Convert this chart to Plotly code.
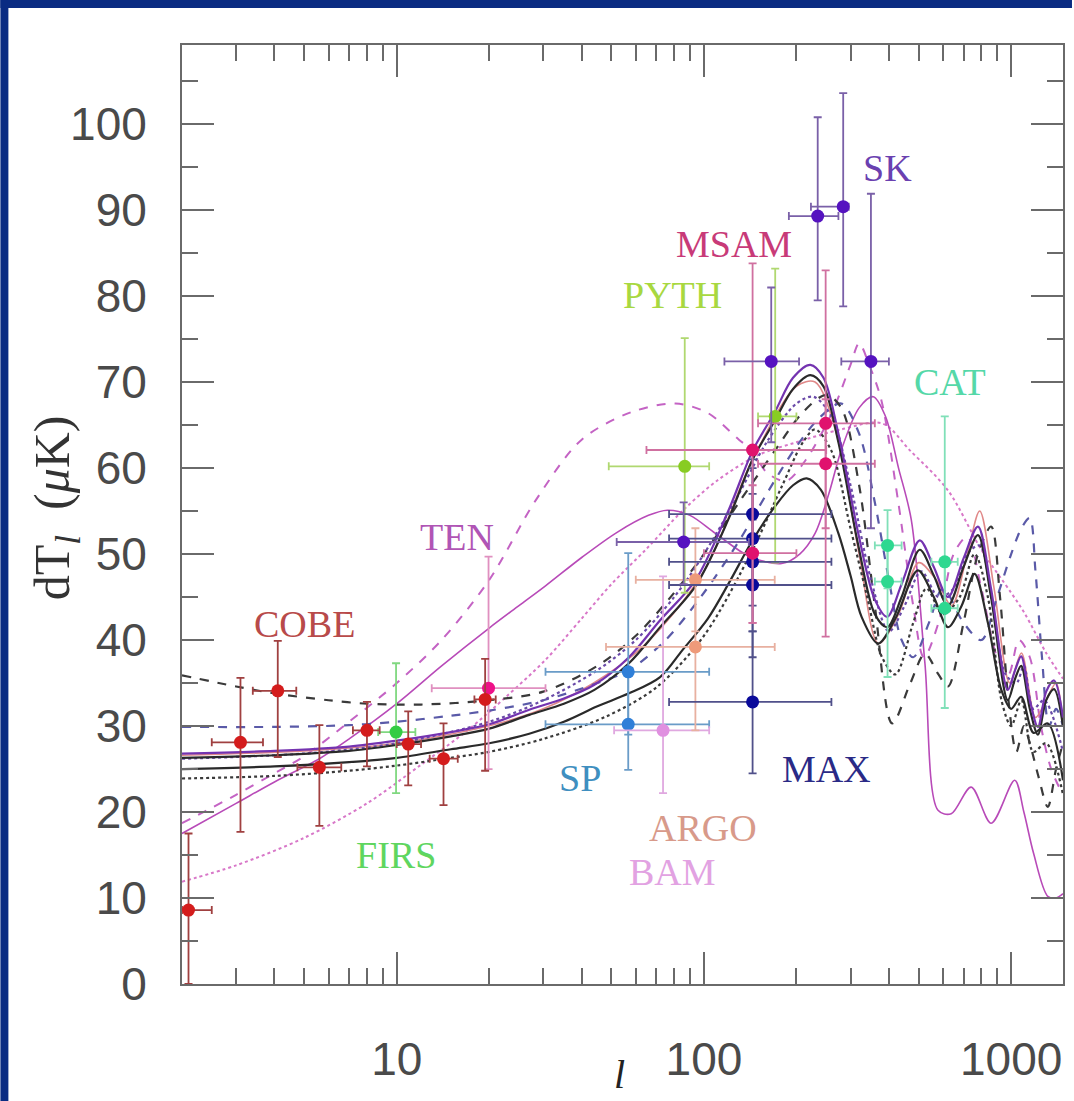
import numpy as np
import plotly.graph_objects as go

# ---------------- data points (experiments) ----------------
cobe_l = [2.1, 3.1, 4.1, 5.6, 8.0, 10.9, 14.2, 19.4]
cobe_dT = [8.6, 28.1, 34.1, 25.2, 29.5, 27.9, 26.2, 33.1]
cobe_hi = [17.5, 35.6, 39.9, 30.1, 32.8, 31.7, 30.3, 37.8]
cobe_lo = [0.0, 17.7, 26.4, 18.4, 25.3, 23.1, 20.8, 24.8]
cobe_llo = [2.0, 2.5, 3.4, 4.75, 7.2, 10.0, 12.8, 17.9]
cobe_lhi = [2.5, 3.67, 4.71, 6.6, 8.8, 12.0, 15.8, 21.0]

firs_l = [9.95]
firs_dT = [29.3]
firs_hi = [37.3]
firs_lo = [22.2]
firs_llo = [8.7]
firs_lhi = [11.5]

ten_l = [19.9]
ten_dT = [34.4]
ten_hi = [49.7]
ten_lo = [25.0]
ten_llo = [13.0]
ten_lhi = [30.5]

sp_l = [56.7, 56.7]
sp_dT = [36.3, 30.2]
sp_hi = [50.1, 36.0]
sp_lo = [29.0, 24.9]
sp_llo = [30.5, 30.5]
sp_lhi = [104, 104]

bam_l = [73.6]
bam_dT = [29.5]
bam_hi = [47.4]
bam_lo = [22.2]
bam_llo = [51]
bam_lhi = [104]

argo_l = [93.8, 93.8]
argo_dT = [47.0, 39.2]
argo_hi = [53.0, 45.0]
argo_lo = [41.0, 29.5]
argo_llo = [60, 48]
argo_lhi = [170, 170]

pyth_l = [86.6, 170.6]
pyth_dT = [60.2, 66.0]
pyth_hi = [75.1, 83.2]
pyth_lo = [45.5, 49.0]
pyth_llo = [49, 150]
pyth_lhi = [104, 200]

msam_l = [144, 144, 249, 249]
msam_dT = [62.1, 50.1, 65.2, 60.5]
msam_hi = [83.8, 58.0, 83.0, 68.0]
msam_lo = [42.0, 42.0, 53.0, 40.4]
msam_llo = [65, 100, 150, 150]
msam_lhi = [250, 200, 360, 360]

max_l = [144, 144, 144, 144, 144]
max_dT = [54.65, 51.8, 49.1, 46.4, 32.8]
max_hi = [61.0, 60.0, 57.0, 54.0, 41.0]
max_lo = [47.0, 44.0, 41.0, 38.0, 24.5]
max_llo = [77, 77, 77, 77, 77]
max_lhi = [260, 260, 260, 260, 260]

sk_l = [85.9, 165.6, 234.6, 284, 349.6]
sk_dT = [51.4, 72.4, 89.3, 90.4, 72.4]
sk_hi = [56.0, 81.0, 100.8, 103.6, 91.9]
sk_lo = [46.5, 63.0, 79.5, 78.8, 53.0]
sk_llo = [52, 116.6, 189, 223, 280]
sk_lhi = [140, 204, 274, 296, 400]

cat_l = [396, 396, 608, 608]
cat_dT = [51.0, 46.8, 49.1, 43.7]
cat_hi = [55.1, 51.0, 66.0, 49.0]
cat_lo = [46.0, 35.7, 44.0, 32.1]
cat_llo = [360, 360, 550, 550]
cat_lhi = [440, 440, 670, 670]

# ---------------- theory curves ----------------
p1_l = [2, 4, 7, 10, 15, 20, 27, 35, 44, 57, 72, 94, 120, 144, 170, 195, 222, 245, 274, 318, 360, 395, 440, 504, 560, 623, 700, 780, 860, 975, 1030, 1078, 1150, 1222, 1300, 1380, 1475]
p1_v = [26.8, 27.1, 27.6, 28.3, 29.3, 30.2, 31.9, 33.2, 34.8, 38.0, 42.3, 47.0, 55.0, 62.0, 66.5, 70.5, 72.0, 70.5, 64.0, 52.4, 44.7, 42.7, 46.5, 51.6, 48.5, 45.0, 49.5, 53.2, 46.0, 34.2, 36.5, 38.1, 33.0, 29.9, 34.0, 35.3, 31.0]

k1_l = p1_l
k1_v = [26.3, 26.6, 27.1, 27.8, 28.8, 29.7, 31.3, 32.6, 34.2, 37.3, 41.5, 46.3, 54.0, 61.0, 65.5, 69.2, 70.8, 69.5, 63.0, 51.0, 43.0, 41.5, 45.0, 50.5, 47.5, 44.0, 48.5, 52.2, 45.0, 33.0, 35.5, 37.0, 32.0, 29.0, 33.0, 34.3, 30.0]

k2_l = [2, 4, 7, 10, 15, 20, 27, 35, 45, 57, 72, 85, 103, 120, 144, 170, 195, 216, 240, 274, 300, 326, 369, 420, 497, 560, 623, 690, 760, 840, 929, 1000, 1078, 1183, 1316, 1475]
k2_v = [25.0, 25.3, 25.8, 26.3, 27.3, 28.0, 29.1, 30.5, 32.3, 33.8, 35.7, 38.8, 42.5, 46.5, 51.6, 55.5, 58.0, 58.8, 57.5, 52.4, 47.5, 42.7, 39.6, 42.5, 48.1, 45.0, 41.5, 44.0, 47.7, 42.0, 34.2, 32.0, 33.4, 29.2, 30.3, 23.7]

kd_l = [2, 3, 4, 6, 8, 12, 20, 30, 45, 60, 80, 100, 130, 170, 210, 250, 280, 320, 360, 410, 470, 524, 580, 623, 700, 780, 861, 920, 980, 1040, 1100, 1150, 1230, 1316, 1400, 1475]
kd_v = [35.9, 34.6, 33.8, 33.0, 32.6, 32.5, 33.0, 34.0, 37.0, 40.5, 45.5, 50.0, 56.0, 62.0, 66.5, 68.5, 67.0, 58.0, 44.0, 30.3, 35.0, 38.4, 36.0, 34.6, 42.0, 50.0, 53.2, 45.0, 33.0, 27.0, 30.0, 28.0, 24.0, 20.6, 25.0, 28.0]

bd_l = [2, 4, 7, 10, 15, 20, 30, 45, 57, 75, 100, 130, 160, 200, 240, 280, 320, 360, 400, 440, 480, 540, 600, 700, 800, 900, 1000, 1080, 1149, 1200, 1260, 1330, 1400, 1475]
bd_v = [29.9, 29.9, 30.1, 30.5, 31.2, 31.8, 33.0, 35.0, 36.5, 40.0, 45.5, 51.5, 57.0, 62.5, 66.0, 67.5, 64.0, 56.0, 47.0, 40.0, 38.0, 42.0, 46.0, 42.0, 40.0, 45.0, 50.0, 53.0, 54.2, 48.0, 38.0, 30.0, 32.0, 30.0]

kt_l = [2, 4, 7, 10, 15, 20, 30, 48, 70, 100, 144, 180, 210, 230, 260, 300, 340, 380, 420, 480, 530, 600, 680, 760, 840, 930, 1000, 1080, 1180, 1300, 1475]
kt_v = [23.9, 24.2, 24.8, 25.4, 26.3, 27.0, 28.5, 31.1, 34.5, 40.5, 50.5, 58.0, 63.0, 64.5, 62.0, 53.0, 45.0, 38.0, 36.0, 42.0, 46.0, 43.0, 45.0, 50.0, 45.0, 33.0, 30.0, 33.0, 27.0, 28.0, 22.0]

bt_l = [2, 5, 10, 20, 30, 45, 60, 80, 100, 130, 160, 200, 227, 260, 300, 350, 400, 450, 510, 580, 650, 720, 790, 870, 960, 1040, 1100, 1180, 1280, 1475]
bt_v = [26.2, 26.8, 28.0, 30.5, 33.0, 36.5, 40.0, 45.0, 50.0, 57.0, 63.0, 67.5, 68.3, 66.0, 58.0, 47.0, 41.0, 44.0, 48.0, 45.0, 46.0, 50.0, 51.0, 44.0, 36.0, 35.0, 37.0, 32.0, 33.0, 27.0]

ms_l = [2, 3, 4, 5.6, 7, 10, 14, 20, 25, 30.5, 40, 52, 66, 76, 90, 109, 141, 179, 205, 230, 255, 280, 320, 356, 390, 430, 473, 524, 578, 638, 741, 861, 1027, 1100, 1183, 1316, 1400, 1475]
ms_v = [17.5, 21.0, 23.5, 26.2, 28.5, 32.6, 37.0, 41.4, 44.0, 46.3, 49.6, 52.5, 54.5, 55.1, 54.5, 52.4, 49.7, 48.9, 50.0, 52.4, 57.0, 62.1, 67.0, 68.3, 66.0, 60.0, 54.0, 37.3, 20.2, 19.8, 22.9, 18.7, 23.7, 20.0, 15.2, 10.2, 10.0, 10.5]

md_l = [2, 3, 4, 5, 7, 10, 14, 20, 28.4, 40, 58, 80.7, 103, 130, 144, 160, 185, 215, 260, 300, 320, 345, 378, 428, 480, 520, 580, 650, 720, 800, 900, 980, 1060, 1150, 1250, 1350, 1475]
md_v = [18.7, 22.0, 24.5, 26.5, 30.5, 35.0, 40.0, 47.0, 56.3, 63.3, 66.5, 67.5, 66.4, 63.3, 62.0, 59.5, 58.5, 61.0, 66.3, 72.0, 74.5, 72.0, 67.9, 56.3, 44.0, 38.0, 42.0, 50.0, 52.0, 46.0, 38.0, 36.0, 40.0, 38.0, 30.0, 25.0, 22.0]

mt_l = [2, 3, 5, 8, 12, 17, 22.7, 30.5, 40, 50, 64.6, 85, 110, 150, 200, 280, 380, 470, 623, 800, 1000, 1107, 1300, 1475]
mt_v = [11.9, 13.8, 17.0, 21.0, 25.5, 29.5, 33.4, 37.7, 42.5, 46.5, 50.5, 55.0, 58.5, 61.5, 63.0, 64.5, 65.2, 62.0, 57.4, 50.5, 45.5, 43.1, 38.5, 35.5]

r_l = [2, 10, 30, 60, 100, 144, 200, 230, 270, 320, 370, 430, 500, 570, 640, 720, 790, 880, 990, 1080, 1200, 1300, 1400, 1475]
r_v = [26.6, 28.0, 32.0, 38.5, 48.0, 61.0, 69.5, 70.0, 64.0, 50.0, 39.6, 43.0, 49.0, 47.0, 44.0, 50.0, 55.0, 46.0, 35.0, 38.5, 31.0, 33.0, 35.0, 30.0]

# ---------------- labels ----------------
lab_text = ["COBE", "FIRS", "TEN", "SP", "ARGO", "BAM", "PYTH", "MSAM", "MAX", "SK", "CAT"]
lab_l = [5.02, 9.95, 15.7, 39.6, 99, 78.9, 79.2, 125, 250, 395, 630]
lab_v = [41.9, 15.0, 52.0, 24.0, 18.1, 13.0, 80.1, 86.0, 25.0, 94.9, 70.0]
lab_col = ["#b84a4a", "#5fd65f", "#b055b5", "#3f8fc0", "#d89a8a", "#e2a2e2", "#a8d840", "#c83a78", "#2a2a86", "#6a40b0", "#55d8a8"]

fig = go.Figure()

def add_curve(lx, vy, color, dash, width=2.0):
    fig.add_trace(go.Scatter(x=lx, y=vy, mode="lines",
                             line=dict(color=color, dash=dash, width=width, shape="spline", smoothing=0.9),
                             hoverinfo="skip", showlegend=False))

add_curve(mt_l, mt_v, "#d877c8", "dot", 2)
add_curve(md_l, md_v, "#c463c4", "dash", 2)
add_curve(ms_l, ms_v, "#b84ab8", "solid", 1.6)
add_curve(r_l, r_v, "#e08888", "solid", 1.6)
add_curve(bd_l, bd_v, "#5a5aa8", "dash", 2.2)
add_curve(kd_l, kd_v, "#3a3a3a", "dash", 2.2)
add_curve(bt_l, bt_v, "#6a4aa8", "dot", 2.2)
add_curve(kt_l, kt_v, "#3a3a3a", "dot", 2.2)
add_curve(k2_l, k2_v, "#2a2a2a", "solid", 2.2)
add_curve(k1_l, k1_v, "#2a2a2a", "solid", 2.2)
add_curve(p1_l, p1_v, "#7433b0", "solid", 2.2)

def add_points(lx, vy, hi, lo, llo, lhi, color, barcolor):
    fig.add_trace(go.Scatter(
        x=lx, y=vy, mode="markers",
        marker=dict(color=color, size=13),
        error_y=dict(type="data", symmetric=False,
                     array=[h - v for h, v in zip(hi, vy)],
                     arrayminus=[v - l for v, l in zip(vy, lo)],
                     color=barcolor, thickness=1.8, width=4),
        error_x=dict(type="data", symmetric=False,
                     array=[h - x for h, x in zip(lhi, lx)],
                     arrayminus=[x - l for x, l in zip(lx, llo)],
                     color=barcolor, thickness=1.8, width=4),
        hoverinfo="skip", showlegend=False))

add_points(sp_l, sp_dT, sp_hi, sp_lo, sp_llo, sp_lhi, "#2f7fd8", "#6a9cc8")
add_points(bam_l, bam_dT, bam_hi, bam_lo, bam_llo, bam_lhi, "#e090e0", "#e0a8e0")
add_points(argo_l, argo_dT, argo_hi, argo_lo, argo_llo, argo_lhi, "#ee9a7a", "#e8b0a0")
add_points(pyth_l, pyth_dT, pyth_hi, pyth_lo, pyth_llo, pyth_lhi, "#88cc22", "#b0d870")
add_points(max_l, max_dT, max_hi, max_lo, max_llo, max_lhi, "#0a0a9a", "#50508a")
add_points(msam_l, msam_dT, msam_hi, msam_lo, msam_llo, msam_lhi, "#e0126e", "#d070a0")
add_points(sk_l, sk_dT, sk_hi, sk_lo, sk_llo, sk_lhi, "#5512c0", "#7a60a8")
add_points(cat_l, cat_dT, cat_hi, cat_lo, cat_llo, cat_lhi, "#2ed890", "#80e0b8")
add_points(firs_l, firs_dT, firs_hi, firs_lo, firs_llo, firs_lhi, "#33cc44", "#80d880")
add_points(ten_l, ten_dT, ten_hi, ten_lo, ten_llo, ten_lhi, "#ee1188", "#e090c0")
add_points(cobe_l, cobe_dT, cobe_hi, cobe_lo, cobe_llo, cobe_lhi, "#d41c1c", "#a04040")

for t, lx, vy, c in zip(lab_text, lab_l, lab_v, lab_col):
    fig.add_annotation(x=np.log10(lx), y=vy, text=t, showarrow=False,
                       font=dict(family="Liberation Serif, serif", size=38, color=c),
                       xanchor="center", yanchor="middle")

axis_col = "#6a6a6a"
fig.update_xaxes(type="log", range=[np.log10(2), np.log10(1475)],
                 showline=True, linecolor=axis_col, linewidth=2, mirror="allticks",
                 ticks="inside", ticklen=32, tickwidth=2, tickcolor=axis_col,
                 tickvals=[10, 100, 1000], ticktext=["10", "100", "1000"],
                 minor=dict(ticks="inside", ticklen=16, tickwidth=2, tickcolor=axis_col,
                            tickvals=[2, 3, 4, 5, 6, 7, 8, 9, 20, 30, 40, 50, 60, 70, 80, 90,
                                      200, 300, 400, 500, 600, 700, 800, 900], showgrid=False),
                 tickfont=dict(family="Liberation Sans, Arial", size=46, color="#4a4a4a"),
                 ticklabelstandoff=34, showgrid=False, zeroline=False)
fig.update_yaxes(range=[0, 109.2],
                 showline=True, linecolor=axis_col, linewidth=2, mirror="allticks",
                 ticks="inside", ticklen=32, tickwidth=2, tickcolor=axis_col,
                 tickvals=[0, 10, 20, 30, 40, 50, 60, 70, 80, 90, 100],
                 minor=dict(ticks="inside", ticklen=16, tickwidth=2, tickcolor=axis_col,
                            dtick=5, showgrid=False),
                 tickfont=dict(family="Liberation Sans, Arial", size=46, color="#4a4a4a"),
                 ticklabelstandoff=24, showgrid=False, zeroline=False)

# axis titles
fig.add_annotation(x=(620 - 182) / 883, y=(984 - 1074) / 939, xref="paper", yref="paper",
                   text="<i>l</i>", showarrow=False,
                   font=dict(family="Liberation Serif, serif", size=40, color="#222"),
                   xanchor="center", yanchor="middle")
fig.add_annotation(x=(56 - 182) / 883, y=(984 - 508) / 939, xref="paper", yref="paper",
                   text="dT<sub><i>l</i></sub>  (<i>μ</i>K)", showarrow=False, textangle=-90,
                   font=dict(family="Liberation Serif, serif", size=50, color="#333"),
                   xanchor="center", yanchor="middle")

navy = "#0a2b82"
fig.add_shape(type="rect", xref="paper", yref="paper", x0=(0 - 182) / 883, x1=(8 - 182) / 883,
              y0=(984 - 1101) / 939, y1=984 / 939, fillcolor=navy, line=dict(width=0), layer="above")
fig.add_shape(type="rect", xref="paper", yref="paper", x0=(0 - 182) / 883, x1=(1074 - 182) / 883,
              y0=(984 - 8) / 939, y1=984 / 939, fillcolor=navy, line=dict(width=0), layer="above")

fig.update_layout(width=1074, height=1101,
                  margin=dict(l=182, r=9, t=45, b=117),
                  paper_bgcolor="white", plot_bgcolor="white",
                  showlegend=False)

fig.write_html("out.html", config={"displayModeBar": False},
               post_script="document.body.style.margin='0px';document.body.style.overflow='hidden';")
